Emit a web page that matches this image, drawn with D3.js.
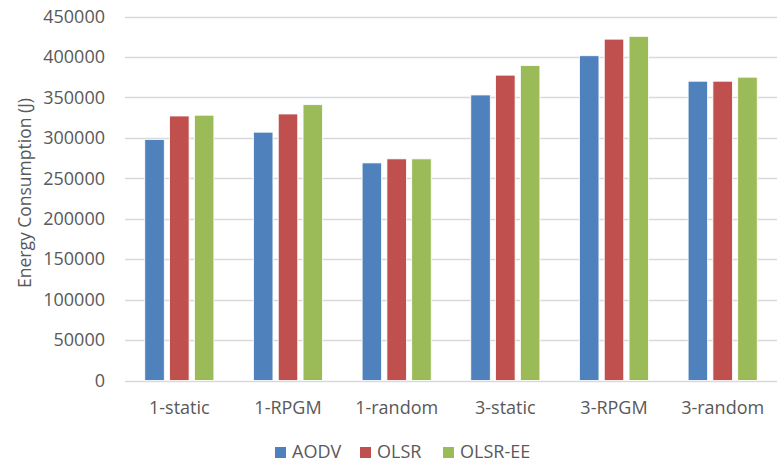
<!DOCTYPE html>
<html><head><meta charset="utf-8">
<script src="https://cdn.jsdelivr.net/npm/d3@7"></script>
<style>body{margin:0;background:#fff;}svg{display:block;font-family:"Open Sans","Liberation Sans",sans-serif;}</style>
</head><body><svg id="c" width="777" height="465"></svg>
<script>
const categories = ["1-static","1-RPGM","1-random","3-static","3-RPGM","3-random"];
const seriesNames = ["AODV","OLSR","OLSR-EE"];
const aodv   = [298000,307000,269000,353000,401500,370000];
const olsr   = [327000,329500,274000,377500,422000,370000];
const olsrEE = [328000,341000,274000,389500,425500,375000];
const yTicks = [0,50000,100000,150000,200000,250000,300000,350000,400000,450000];
const colors = ["#4F81BD","#C0504D","#9BBB59"];
const series = [aodv, olsr, olsrEE];

const svg = d3.select("#c");
const m = {l:125, r:777, t:16.5, b:380.5};
const x = d3.scaleBand().domain(categories).range([m.l, m.r]).paddingInner(0).paddingOuter(0);
const y = d3.scaleLinear().domain([0,450000]).range([m.b, m.t]);
const bw = 19.5, gap = 5.3;
const xs = d3.scaleBand().domain(seriesNames).range([-(1.5*bw+gap), 1.5*bw+gap]).paddingInner(gap/(bw+gap)).paddingOuter(0);

svg.append("g").selectAll("line").data(yTicks).join("line")
  .attr("x1", m.l).attr("x2", m.r).attr("y1", d=>Math.round(y(d))+0.5).attr("y2", d=>Math.round(y(d))+0.5)
  .attr("stroke","#d9d9d9").attr("stroke-width",1.5);

const yAxis = svg.append("g").attr("transform",`translate(${m.l},0)`)
  .call(d3.axisLeft(y).tickValues(yTicks).tickFormat(d3.format("d")).tickSize(0).tickPadding(20));
yAxis.select(".domain").remove();
yAxis.selectAll("text").attr("fill","#595959").attr("font-size",18).attr("font-family","'Open Sans',sans-serif");

seriesNames.forEach((s,i)=>{
  svg.append("g").selectAll("rect").data(series[i]).join("rect")
    .attr("x",(d,j)=>x(categories[j])+x.bandwidth()/2+xs(s))
    .attr("width",xs.bandwidth())
    .attr("y",d=>y(d)).attr("height",d=>y(0)-y(d))
    .attr("fill",colors[i]).attr("stroke","#fff").attr("stroke-width",0.8);
});

const xAxis = svg.append("g").attr("transform",`translate(0,${m.b})`)
  .call(d3.axisBottom(x).tickSize(0).tickPadding(21));
xAxis.select(".domain").remove();
xAxis.selectAll("text").attr("fill","#595959").attr("font-size",18).attr("font-family","'Open Sans',sans-serif");

svg.append("text").attr("transform","translate(31,193) rotate(-90)")
  .attr("text-anchor","middle").attr("fill","#595959").attr("font-size",17.5)
  .text("Energy Consumption (J)");

const legX = [275,360,443];
const lg = svg.append("g");
seriesNames.forEach((s,i)=>{
  lg.append("rect").attr("x",legX[i]).attr("y",447).attr("width",11).attr("height",11).attr("fill",colors[i]);
  lg.append("text").attr("x",legX[i]+17).attr("y",458).attr("fill","#595959").attr("font-size",18).text(s);
});
</script></body></html>
